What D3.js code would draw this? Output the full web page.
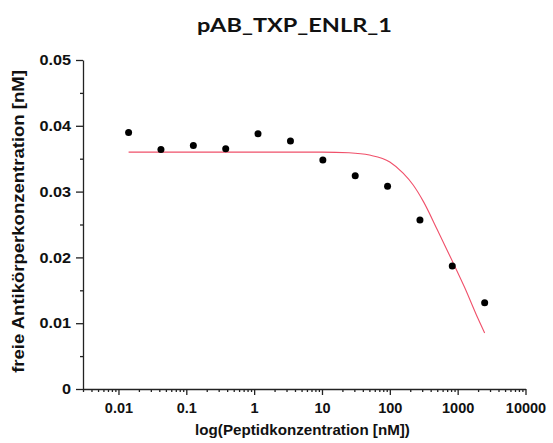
<!DOCTYPE html>
<html>
<head>
<meta charset="utf-8">
<script src="https://cdn.jsdelivr.net/npm/d3@7"></script>
<style>
  body { margin: 0; background: #fff; }
  svg { display: block; }
</style>
</head>
<body>
<div id="chart"></div>
<script>
// peptide concentrations [nM] and measured free antibody [nM]
const conc = [0.0141, 0.0423, 0.127, 0.381, 1.14, 3.43, 10.3, 30.9, 92.6, 278, 833, 2500];
const freeAb = [0.0390, 0.0364, 0.0370, 0.0365, 0.0388, 0.0377, 0.0348, 0.0324, 0.0308, 0.0257, 0.0187, 0.0131];

// fitted curve
const fitConc = [0.0141, 1, 10, 25, 50, 100, 157, 221, 316, 501, 794, 1259, 1995, 2500];
const fitVal = [0.0360, 0.0360, 0.0360, 0.0359, 0.03555, 0.0345, 0.0328, 0.0310, 0.0284, 0.0242, 0.0199, 0.0155, 0.0107, 0.0085];

const xMajor = [0.01, 0.1, 1, 10, 100, 1000, 10000];
const xMajorLabels = ["0.01", "0.1", "1", "10", "100", "1000", "10000"];
const yMajor = [0, 0.01, 0.02, 0.03, 0.04, 0.05];
const yMajorLabels = ["0", "0.01", "0.02", "0.03", "0.04", "0.05"];
const yMinor = [0.005, 0.015, 0.025, 0.035, 0.045];

const width = 553, height = 443;
const svg = d3.select("#chart").append("svg")
  .attr("width", width)
  .attr("height", height);

svg.append("rect").attr("width", width).attr("height", height).attr("fill", "#fff");

const x = d3.scaleLog().domain([0.003, 10000]).range([83, 525.5]);
const y = d3.scaleLinear().domain([0, 0.05]).range([389, 60]);

// minor x ticks: 2..9 of each decade inside the domain
const xMinor = [];
for (let e = -3; e < 4; e++) {
  for (let m = 2; m <= 9; m++) {
    const v = m * Math.pow(10, e);
    if (v >= 0.003 && v <= 10000) xMinor.push(v);
  }
}

const axisColor = "#222";
const tickFont = "'Liberation Sans', Arial, sans-serif";

// x axis
svg.append("g")
  .attr("transform", `translate(0,${y(0)})`)
  .call(d3.axisBottom(x).tickValues(xMinor).tickSize(3).tickFormat(""))
  .call(g => g.select(".domain").remove());

const xAx = svg.append("g")
  .attr("transform", `translate(0,${y(0)})`)
  .call(d3.axisBottom(x).tickValues(xMajor).tickSize(6).tickSizeOuter(0)
    .tickFormat((d, i) => xMajorLabels[i]));
xAx.selectAll("text")
  .attr("y", 14)
  .style("font-family", tickFont)
  .style("font-weight", "bold")
  .style("font-size", "14.5px")
  .attr("fill", "#111");

// y axis
svg.append("g")
  .attr("transform", `translate(${x(0.003)},0)`)
  .call(d3.axisLeft(y).tickValues(yMinor).tickSize(3).tickFormat(""))
  .call(g => g.select(".domain").remove());

const yAx = svg.append("g")
  .attr("transform", `translate(${x(0.003)},0)`)
  .call(d3.axisLeft(y).tickValues(yMajor).tickSize(7).tickSizeOuter(0)
    .tickFormat((d, i) => yMajorLabels[i]));
yAx.selectAll("text")
  .attr("x", 0)
  .style("font-family", tickFont)
  .style("font-weight", "bold")
  .style("font-size", "14.5px")
  .attr("fill", "#111")
  .attr("transform", "translate(-12,0) scale(1.12,1)");

svg.selectAll(".domain, .tick line")
  .attr("stroke", axisColor)
  .attr("stroke-width", 1.3);

// fitted curve
const line = d3.line()
  .x(d => x(d[0]))
  .y(d => y(d[1]))
  .curve(d3.curveMonotoneX);

svg.append("path")
  .datum(fitConc.map((c, i) => [c, fitVal[i]]))
  .attr("d", line)
  .attr("fill", "none")
  .attr("stroke", "#f0506a")
  .attr("stroke-width", 1.1);

// data points
svg.selectAll("circle.pt")
  .data(conc.map((c, i) => [c, freeAb[i]]))
  .join("circle")
  .attr("class", "pt")
  .attr("cx", d => x(d[0]))
  .attr("cy", d => y(d[1]))
  .attr("r", 3.5)
  .attr("fill", "#000");

// titles
function fitWidth(sel, target) {
  const len = sel.node().getComputedTextLength();
  return target / len;
}

const title = svg.append("text")
  .attr("text-anchor", "middle")
  .style("font-family", "Lato, 'Open Sans', sans-serif")
  .style("font-weight", "bold")
  .style("font-size", "19px")
  .attr("fill", "#111")
  .text("pAB_TXP_ENLR_1");
const ts = fitWidth(title, 195);
title.attr("transform", `translate(294.5,32) scale(${ts},1)`);

const xTitle = svg.append("text")
  .attr("text-anchor", "middle")
  .style("font-family", tickFont)
  .style("font-weight", "bold")
  .style("font-size", "15.5px")
  .attr("fill", "#111")
  .text("log(Peptidkonzentration [nM])");
const xs = fitWidth(xTitle, 215);
xTitle.attr("transform", `translate(302.5,435) scale(${xs},1)`);

const yTitle = svg.append("text")
  .attr("text-anchor", "middle")
  .style("font-family", tickFont)
  .style("font-weight", "bold")
  .style("font-size", "17px")
  .attr("fill", "#111")
  .text("freie Antikörperkonzentration [nM]");
const ys = fitWidth(yTitle, 303);
yTitle.attr("transform", `translate(24,221.5) rotate(-90) scale(${ys},1)`);
</script>
</body>
</html>
